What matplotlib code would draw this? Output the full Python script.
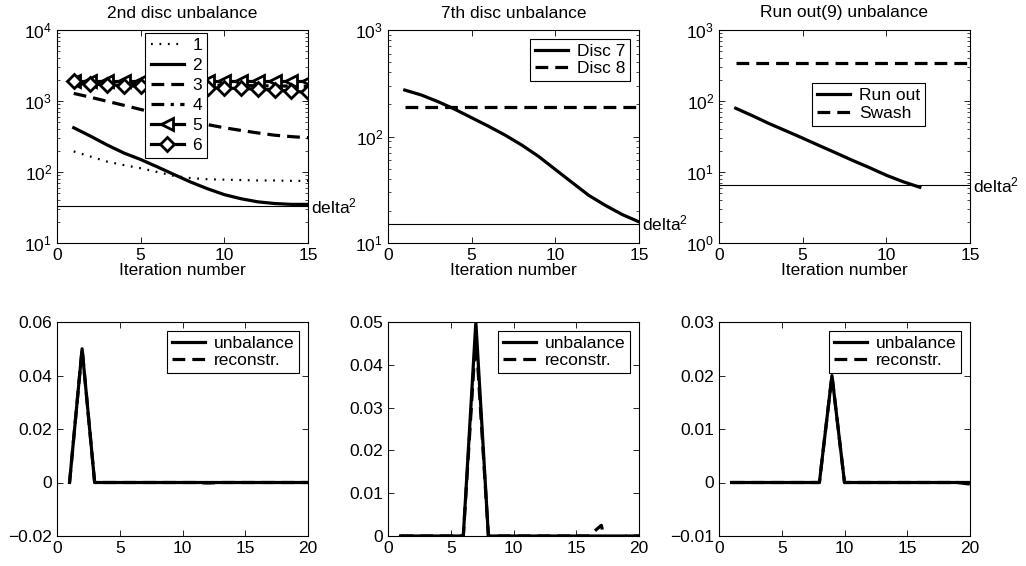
import numpy as np
import matplotlib
matplotlib.use("Agg")
import matplotlib.pyplot as plt
import matplotlib.transforms as mtrans

plt.rcParams['font.family'] = ['Liberation Sans', 'DejaVu Sans']
plt.rcParams['mathtext.fontset'] = 'custom'
plt.rcParams['mathtext.rm'] = 'Liberation Sans'
plt.rcParams['mathtext.it'] = 'Liberation Sans'
plt.rcParams['font.size'] = 12

# ---------------- data ----------------
iters = [1, 2, 3, 4, 5, 6, 7, 8, 9, 10, 11, 12, 13, 14, 15]
d2_s1 = [195, 165, 140, 125, 113, 100, 88, 82, 79, 78, 77, 76, 76, 75, 75]
d2_s2 = [420, 320, 240, 185, 150, 118, 92, 72, 58, 48, 42, 38, 36, 35, 35]
d2_s3 = [1280, 1130, 990, 870, 760, 670, 590, 520, 465, 420, 385, 355, 330, 315, 304]
d2_s4 = [1750, 1740, 1730, 1720, 1710, 1700, 1690, 1680, 1670, 1660, 1650, 1640, 1630, 1620, 1610]
d2_s5 = [1900, 1900, 1900, 1900, 1900, 1900, 1900, 1900, 1900, 1900, 1900, 1900, 1900, 1900, 1900]
d2_s6 = [1900, 1750, 1700, 1650, 1620, 1600, 1580, 1560, 1540, 1520, 1500, 1470, 1430, 1380, 1320]
d2_labels = ['1', '2', '3', '4', '5', '6']
d2_delta = 33

d7_disc7 = [273, 245, 212, 180, 150, 125, 103, 83, 65, 49, 37, 28, 22.5, 18.5, 15.8]
d7_disc8 = [190] * 15
d7_delta = 15.1

ro_iters = [1, 2, 3, 4, 5, 6, 7, 8, 9, 10, 11, 12]
ro_runout = [79, 62, 48, 38, 30, 23.5, 18.5, 14.5, 11.5, 9.0, 7.3, 6.1]
ro_swash = [339] * 15
ro_delta = 6.56

pos = list(range(1, 21))
b1_unb = [0, 0.05] + [0] * 18
b1_rec = [0, 0.05, 0, 0, 0, 0, 0, 0, 0, 0, 0, -0.0002, 0, 0, 0, 0, 0, 0, 0, 0]
b2_unb = [0] * 6 + [0.05] + [0] * 13
b2_rec = [0] * 6 + [0.047] + [0] * 9 + [0.0025, -0.01] + [0] * 2
b3_unb = [0] * 8 + [0.02] + [0] * 11
b3_rec = [0] * 8 + [0.02] + [0] * 10 + [-0.0003]

titles = ['2nd disc unbalance', '7th disc unbalance', 'Run out(9) unbalance']
xlabel = 'Iteration number'

# ---------------- figure ----------------
fig = plt.figure(figsize=(10.26, 5.66), dpi=100)
lefts = [57 / 1026, 388 / 1026, 719 / 1026]
w = 251 / 1026
top_b, top_h = (566 - 243) / 566, 213 / 566
bot_b, bot_h = (566 - 536) / 566, 214 / 566

axes_top = [fig.add_axes([l, top_b, w, top_h]) for l in lefts]
axes_bot = [fig.add_axes([l, bot_b, w, bot_h]) for l in lefts]

FS = 12.5

def style(ax):
    ax.tick_params(which='both', direction='in', top=True, right=True, labelsize=FS)
    ax.tick_params(which='major', length=4, width=0.6)
    ax.tick_params(which='minor', length=2, width=0.5)
    for s in ax.spines.values():
        s.set_linewidth(0.8)

def legend(ax, ls=0.12, **kw):
    lg = ax.legend(fancybox=False, framealpha=1, edgecolor='black', handlelength=1.9,
                   borderpad=0.3, labelspacing=ls, handletextpad=0.5, fontsize=FS, **kw)
    lg.get_frame().set_linewidth(0.8)
    return lg

def delta_text(ax, y):
    tr = mtrans.blended_transform_factory(ax.transAxes, ax.transData)
    ax.text(1.01, y, 'delta$^2$', transform=tr, ha='left', va='center', fontsize=FS, clip_on=False)

lw = 2.3
dash = (0, (4, 2.2))
# panel 1
ax = axes_top[0]
ax.plot(iters, d2_s1, color='k', ls=(0, (0.8, 3)), lw=1.6, label=d2_labels[0])
ax.plot(iters, d2_s2, color='k', ls='-', lw=lw, label=d2_labels[1])
ax.plot(iters, d2_s3, color='k', ls=dash, lw=lw, label=d2_labels[2])
ax.plot(iters, d2_s4, color='k', ls=(0, (4, 2, 1, 2)), lw=lw, label=d2_labels[3])
ax.plot(iters, d2_s5, color='k', ls='-', lw=lw, marker='<', ms=8, mfc='white', mew=2, label=d2_labels[4])
ax.plot(iters, d2_s6, color='k', ls='-', lw=lw, marker='D', ms=7, mfc='white', mew=2, label=d2_labels[5])
ax.axhline(d2_delta, color='k', lw=0.8)
ax.set_yscale('log')
ax.set_ylim(10, 1e4)
delta_text(ax, d2_delta)
legend(ax, ls=0.28, loc='upper left', bbox_to_anchor=(0.352, 0.988), borderaxespad=0)

# panel 2
ax = axes_top[1]
ax.plot(iters, d7_disc7, color='k', ls='-', lw=lw, label='Disc 7')
ax.plot(iters, d7_disc8, color='k', ls=dash, lw=lw, label='Disc 8')
ax.axhline(d7_delta, color='k', lw=0.8)
ax.set_yscale('log')
ax.set_ylim(10, 1e3)
delta_text(ax, d7_delta)
legend(ax, loc='upper right')

# panel 3
ax = axes_top[2]
ax.plot(ro_iters, ro_runout, color='k', ls='-', lw=lw, label='Run out')
ax.plot(iters, ro_swash, color='k', ls=dash, lw=lw, label='Swash')
ax.axhline(ro_delta, color='k', lw=0.8)
ax.set_yscale('log')
ax.set_ylim(1, 1e3)
delta_text(ax, ro_delta)
legend(ax, loc='upper left', bbox_to_anchor=(0.37, 0.751), borderaxespad=0)

for ax, t in zip(axes_top, titles):
    ax.set_xlim(0, 15)
    ax.set_xticks([0, 5, 10, 15])
    ax.set_title(t, fontsize=FS, pad=9)
    ax.set_xlabel(xlabel, fontsize=FS, labelpad=0)
    style(ax)

# bottom panels
bot_data = [(b1_unb, b1_rec, (-0.02, 0.06), [-0.02, 0, 0.02, 0.04, 0.06]),
            (b2_unb, b2_rec, (0, 0.05), [0, 0.01, 0.02, 0.03, 0.04, 0.05]),
            (b3_unb, b3_rec, (-0.01, 0.03), [-0.01, 0, 0.01, 0.02, 0.03])]
for ax, (u, r, yl, yt) in zip(axes_bot, bot_data):
    ax.plot(pos, u, color='k', ls='-', lw=lw, label='unbalance')
    ax.plot(pos, r, color='k', ls=dash, lw=lw, label='reconstr.')
    ax.set_xlim(0, 20)
    ax.set_xticks([0, 5, 10, 15, 20])
    ax.set_ylim(*yl)
    ax.set_yticks(yt)
    ax.set_yticklabels([('%g' % v).replace('-', '\u2212') for v in yt])
    legend(ax, loc='upper right')
    style(ax)

fig.savefig('out.png', dpi=100)
